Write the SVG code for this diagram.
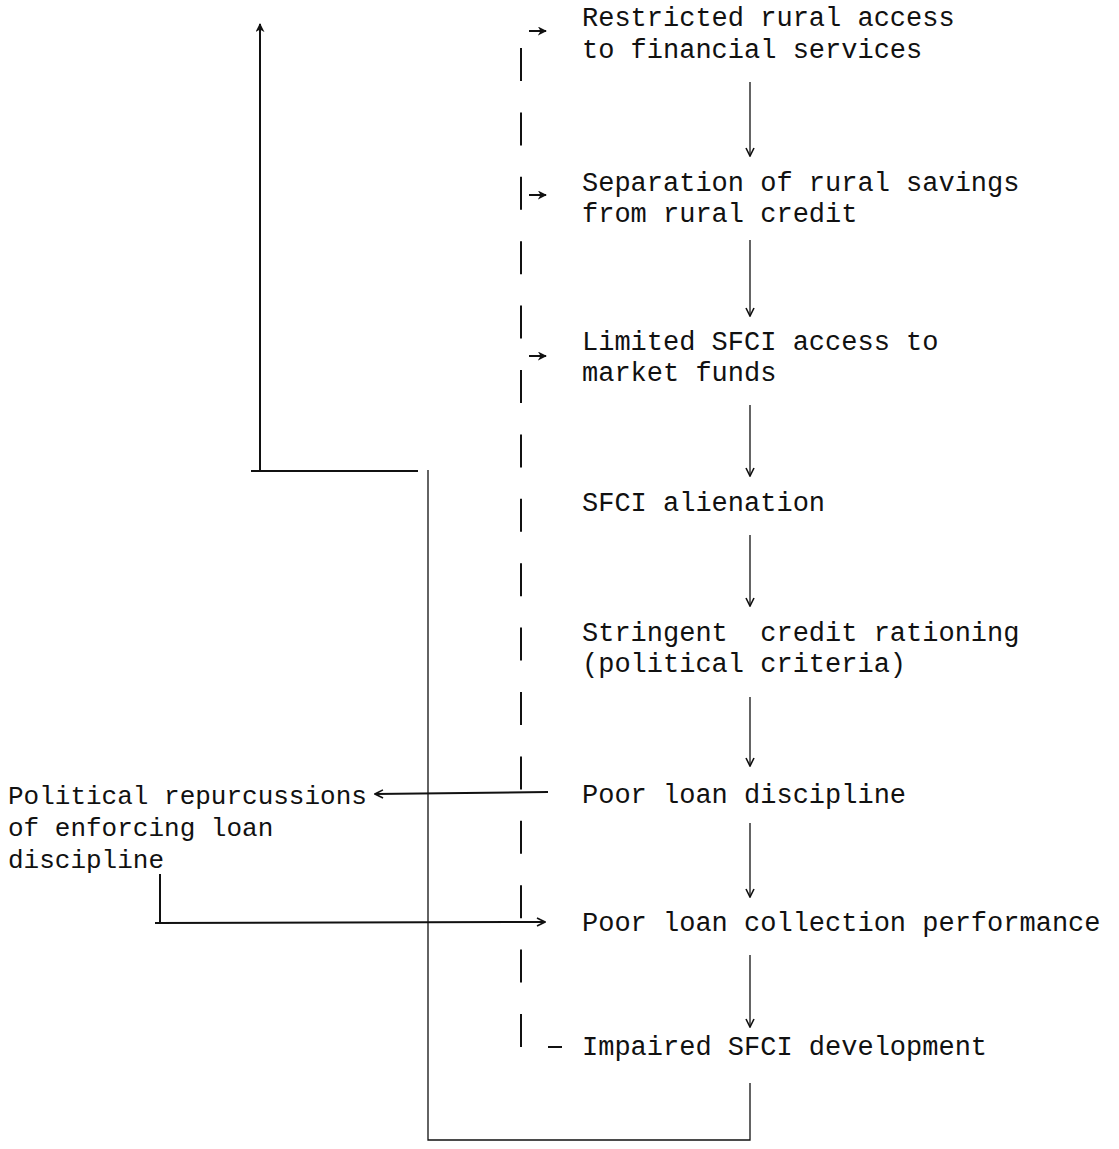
<svg xmlns="http://www.w3.org/2000/svg" width="1119" height="1149" viewBox="0 0 1119 1149">
<defs>
<style>
text{font-family:"Liberation Mono","DejaVu Sans Mono",monospace;font-size:27px;fill:#111}
.side{font-size:26px}
.ln{stroke:#111;stroke-width:2;fill:none}
.thin{stroke:#111;stroke-width:1.3;fill:none}
.dash{stroke:#111;stroke-width:2;fill:none;stroke-dasharray:33 31.4}
</style>
<marker id="ah" viewBox="0 0 10 10" refX="9" refY="5" markerWidth="10" markerHeight="10" markerUnits="userSpaceOnUse" orient="auto">
<path d="M1,1 L9,5 L1,9" fill="none" stroke="#111" stroke-width="1.6"/>
</marker>
<marker id="ahs" viewBox="0 0 10 10" refX="9" refY="5" markerWidth="9" markerHeight="9" markerUnits="userSpaceOnUse" orient="auto">
<path d="M0,0 L10,5 L0,10 L3,5 Z" fill="#111"/>
</marker>
</defs>
<rect width="1119" height="1149" fill="#fff"/>
<g id="n1"><text x="582" y="26">Restricted rural access</text><text x="582" y="58">to financial services</text></g>
<g id="n2"><text x="582" y="191">Separation of rural savings</text><text x="582" y="222">from rural credit</text></g>
<g id="n3"><text x="582" y="350">Limited SFCI access to</text><text x="582" y="381">market funds</text></g>
<g id="n4"><text x="582" y="511">SFCI alienation</text></g>
<g id="n5"><text x="582" y="641" xml:space="preserve">Stringent  credit rationing</text><text x="582" y="672">(political criteria)</text></g>
<g id="n6"><text x="582" y="803">Poor loan discipline</text></g>
<g id="n7"><text x="582" y="931">Poor loan collection performance</text></g>
<g id="n8"><text x="582" y="1055">Impaired SFCI development</text></g>
<g id="n9"><text class="side" x="8" y="804">Political repurcussions</text><text class="side" x="8" y="836">of enforcing loan</text><text class="side" x="8" y="868">discipline</text></g>
<g id="connectors">
<line class="thin" x1="750" y1="82" x2="750" y2="156" marker-end="url(#ah)"/>
<line class="thin" x1="750" y1="240" x2="750" y2="316" marker-end="url(#ah)"/>
<line class="thin" x1="750" y1="405" x2="750" y2="476" marker-end="url(#ah)"/>
<line class="thin" x1="750" y1="535" x2="750" y2="606" marker-end="url(#ah)"/>
<line class="thin" x1="750" y1="697" x2="750" y2="766" marker-end="url(#ah)"/>
<line class="thin" x1="750" y1="823" x2="750" y2="897" marker-end="url(#ah)"/>
<line class="thin" x1="750" y1="955" x2="750" y2="1027" marker-end="url(#ah)"/>
<polyline class="thin" points="750,1083 750,1140 428,1140 428,470"/>
<line class="ln" x1="251" y1="471" x2="418" y2="471"/>
<line class="ln" x1="260" y1="471" x2="260" y2="24" marker-end="url(#ahs)"/>
<line class="dash" x1="521" y1="48" x2="521" y2="1050"/>
<line class="ln" x1="529" y1="31" x2="546" y2="31" marker-end="url(#ahs)"/>
<line class="ln" x1="529" y1="195" x2="546" y2="195" marker-end="url(#ahs)"/>
<line class="ln" x1="529" y1="356" x2="546" y2="356" marker-end="url(#ahs)"/>
<line class="ln" x1="548" y1="1047" x2="562" y2="1047"/>
<line class="ln" x1="548" y1="792" x2="375" y2="794" marker-end="url(#ah)"/>
<polyline class="ln" points="160,874 160,923 155,923 545,922" marker-end="url(#ah)"/>
</g>
</svg>
